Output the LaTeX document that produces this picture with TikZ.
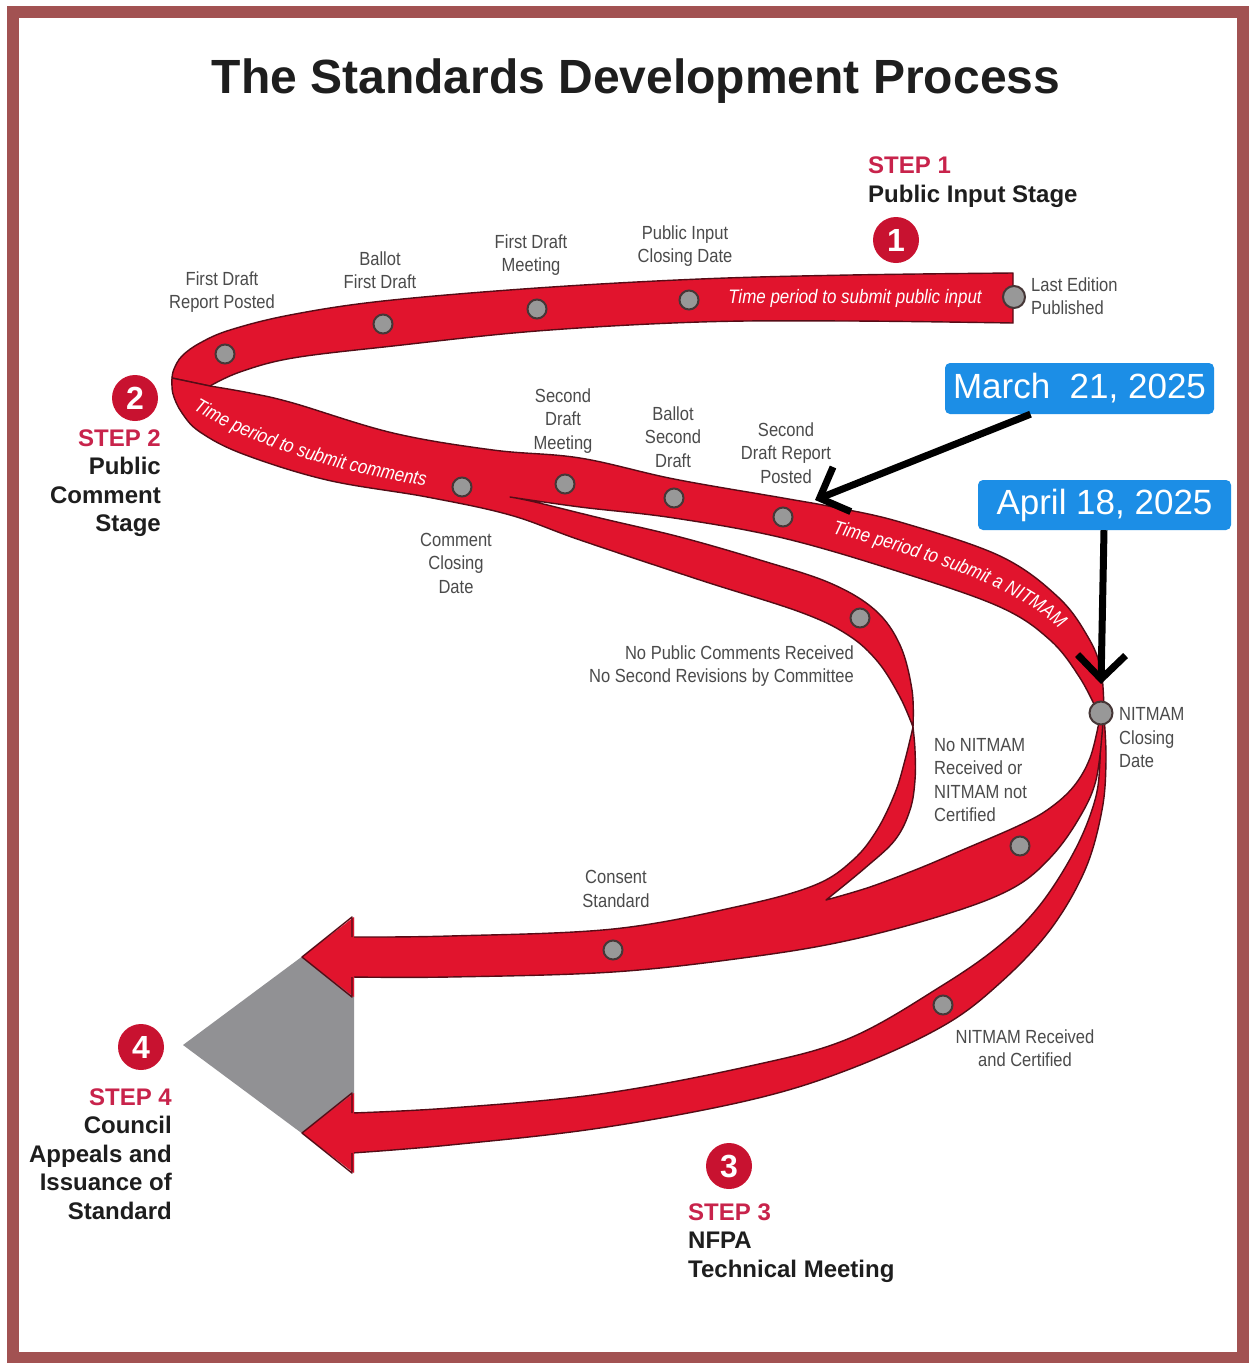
\documentclass[tikz,border=0pt]{standalone}
\usepackage{fontspec}
\setmainfont{Liberation Sans}
\newfontfamily\lblfont[FakeStretch=0.87]{Liberation Sans}
\usetikzlibrary{arrows.meta,decorations.text}
\definecolor{rib}{RGB}{225,20,45}
\definecolor{ribline}{RGB}{85,12,22}
\definecolor{stepred}{RGB}{200,35,75}
\definecolor{circred}{RGB}{200,18,48}
\definecolor{dotgray}{RGB}{152,152,152}
\definecolor{dotline}{RGB}{70,55,55}
\definecolor{trigray}{RGB}{145,145,148}
\definecolor{callblue}{RGB}{28,142,230}
\definecolor{framecol}{RGB}{162,82,82}
\definecolor{lbltxt}{RGB}{75,75,75}
\definecolor{darktxt}{RGB}{30,30,30}
\begin{document}
\begin{tikzpicture}[x=1pt,y=-1pt,
  ribbon/.style={fill=rib, draw=ribline, line width=1.4pt, line join=round},
  dotn/.style={circle, fill=dotgray, draw=dotline, line width=2pt, minimum size=19pt, inner sep=0pt},
  lbl/.style={font=\lblfont\fontsize{19}{23.5}\selectfont, text=lbltxt, inner sep=0pt, align=center},
  ribtxt/.style={font=\lblfont\itshape\fontsize{19.5}{20}\selectfont, text=white, inner sep=0pt},
  stepblk/.style={font=\bfseries\fontsize{24}{28.5}\selectfont, text=darktxt, inner sep=0pt},
  numc/.style={circle, fill=circred, text=white, font=\bfseries\fontsize{32}{32}\selectfont, minimum size=46pt, inner sep=0pt},
  callout/.style={fill=callblue, rounded corners=5pt, text=white, font=\fontsize{35}{35}\selectfont, inner sep=0pt},
  bigarrow/.style={line width=7pt, -{Straight Barb[length=24pt,width=48pt]}}
]
\useasboundingbox (0,0) rectangle (1248,1363);
\fill[white] (0,0) rectangle (1248,1363);
\draw[framecol, line width=12pt] (13,12) rectangle (1243,1358);

% title
\node[font=\bfseries\fontsize{48}{48}\selectfont, text=darktxt] (title) at (636,81) {The Standards Development Process};

% gray triangle
\fill[trigray] (183,1045) -- (354,918) -- (354,1172) -- cycle;

% top ribbon
\filldraw[ribbon] plot[smooth, tension=0.6] coordinates {(1013,273) (850,275) (700,279) (537,288) (383,301) (290,315) (230,330) (200,343) (182,356) (174,369) (172,378)}
 -- plot[smooth, tension=0.6] coordinates {(210,386) (240,372) (293,358) (393,346) (537,331) (700,322) (850,321) (1013,323)} -- cycle;

% comments ribbon with its two branches
\filldraw[ribbon] plot[smooth, tension=0.6] coordinates {(172,378) (173,394) (182,413) (200,432) (243,454) (327,480) (427,497) (510,515) (580,540) (700,580) (800,612) (848,635) (878,662) (900,697) (913,727)}
 -- plot[smooth, tension=0.6] coordinates {(913,727) (912,690) (900,645) (875,610) (830,583) (760,560) (680,537) (600,518) (535,502) (510,497)}
 -- plot[smooth, tension=0.6] coordinates {(510,497) (580,507) (674,518) (783,538) (900,572) (1000,607) (1050,640) (1080,678) (1099,715)}
 -- plot[smooth, tension=0.6] coordinates {(1104,712) (1101,670) (1088,637) (1058,597) (1000,556) (900,522) (833,507) (783,498) (674,479) (580,458) (493,450) (393,433) (293,403) (250,393) (210,386)}
 -- cycle;

% NITMAM received branch (lower arrow)
\filldraw[ribbon] plot[smooth, tension=0.6] coordinates {(1100,716) (1100,760) (1095,800) (1075,850) (1040,905) (1000,945) (943,985) (850,1038) (750,1066) (600,1094) (450,1108) (352,1113)}
 -- (352,1153)
 -- plot[smooth, tension=0.6] coordinates {(352,1153) (450,1145) (600,1128) (750,1100) (850,1069) (943,1026) (1000,983) (1050,930) (1085,870) (1102,810) (1106,760) (1104,716)}
 -- cycle;

% consent branch (upper arrow)
\filldraw[ribbon] plot[smooth, tension=0.6] coordinates {(913,727) (905,760) (895,793) (877,830) (853,860) (815,885) (740,906) (613,929) (450,936) (352,937)}
 -- (352,977)
 -- plot[smooth, tension=0.6] coordinates {(352,977) (450,977) (613,972) (750,957) (850,940) (950,913) (1013,888) (1050,858) (1078,820) (1096,780) (1103,722)}
 -- plot[smooth, tension=0.6] coordinates {(1099,722) (1090,758) (1074,786) (1050,808) (1020,825) (960,851) (920,868) (870,887) (826,900)}
 -- plot[smooth, tension=0.6] coordinates {(826,900) (865,868) (895,840) (910,810) (915,780) (915,750) (913,727)}
 -- cycle;

% arrow heads
\fill[rib] (354,917) -- (302,957) -- (354,997) -- cycle;
\draw[ribline, line width=1.4pt, line join=round] (352,937) -- (352,917) -- (302,957) -- (352,997) -- (352,977);
\fill[rib] (354,1093) -- (302,1133) -- (354,1173) -- cycle;
\draw[ribline, line width=1.4pt, line join=round] (352,1113) -- (352,1093) -- (302,1133) -- (352,1173) -- (352,1153);

% ribbon texts
\node[ribtxt] (tpinput) at (855,298) {Time period to submit public input};
\path[decorate, decoration={text along path, text align=center, text color=white,
  text={|\lblfont\itshape\fontsize{19.5}{20}\selectfont|Time period to submit comments}}]
  (180,402) .. controls (250,445) and (330,472) .. (440,488);
\path[decorate, decoration={text along path, text align=center, text color=white,
  text={|\lblfont\itshape\fontsize{19.5}{20}\selectfont|Time period to submit a NITMAM}}]
  (828,532) .. controls (940,562) and (1020,588) .. (1062,632);

% milestone dots
\node[dotn, minimum size=22pt] (dle) at (1014,297) {};
\node[dotn] (dpic) at (689,300) {};
\node[dotn] (dfdm) at (537,309) {};
\node[dotn] (dbfd) at (383,324) {};
\node[dotn] (dfdr) at (225,354) {};
\node[dotn] (dccd) at (462,487) {};
\node[dotn] (dsdm) at (565,484) {};
\node[dotn] (dbsd) at (674,498) {};
\node[dotn] (dsdr) at (783,517) {};
\node[dotn] (dnpc) at (860,618) {};
\node[dotn, minimum size=23pt] (dncd) at (1101,713) {};
\node[dotn] (dnn) at (1020,846) {};
\node[dotn] (dcs) at (613,950) {};
\node[dotn] (dnrc) at (943,1005) {};

% milestone labels
\node[lbl] (lfdr) at (222,292) {First Draft\\Report Posted};
\node[lbl] (lbfd) at (380,270) {Ballot\\First Draft};
\node[lbl] (lfdm) at (531,255) {First Draft\\Meeting};
\node[lbl] (lpic) at (685,246) {Public Input\\Closing Date};
\node[lbl, anchor=west, align=left] (lle) at (1031,296) {Last Edition\\Published};
\node[lbl] (lsdm) at (563,421) {Second\\Draft\\Meeting};
\node[lbl] (lbsd) at (673,437) {Ballot\\Second\\Draft};
\node[lbl] (lsdr) at (786,453) {Second\\Draft Report\\Posted};
\node[lbl] (lccd) at (456,563) {Comment\\Closing\\Date};
\node[lbl, anchor=east, align=right] (lnpc) at (854,666) {No Public Comments Received\\No Second Revisions by Committee};
\node[lbl, anchor=west, align=left] (lncd) at (1119,738) {NITMAM\\Closing\\Date};
\node[lbl, anchor=west, align=left] (lnn) at (934,780) {No NITMAM\\Received or\\NITMAM not\\Certified};
\node[lbl] (lcs) at (616,889) {Consent\\Standard};
\node[lbl] (lnrc) at (1025,1048) {NITMAM Received\\and Certified};

% steps
\node[numc] (c1) at (896,240) {1};
\node[numc] (c2) at (135,398) {2};
\node[numc] (c3) at (729,1166) {3};
\node[numc] (c4) at (141,1047) {4};
\node[stepblk, anchor=west, align=left] (step1) at (868,182) {\textcolor{stepred}{STEP 1}\\Public Input Stage};
\node[stepblk, anchor=east, align=right] (step2) at (161,483) {\textcolor{stepred}{STEP 2}\\Public\\Comment\\Stage};
\node[stepblk, anchor=west, align=left] (step3) at (688,1243) {\textcolor{stepred}{STEP 3}\\NFPA\\Technical Meeting};
\node[stepblk, anchor=east, align=right] (step4) at (172,1154) {\textcolor{stepred}{STEP 4}\\Council\\Appeals and\\Issuance of\\Standard};

% callouts
\node[callout, minimum width=269pt, minimum height=51pt] (march) at (1079.5,388.5) {March~~21, 2025};
\node[callout, minimum width=253pt, minimum height=50pt] (april) at (1104.5,505) {April 18, 2025};
\coordinate (mtip) at (815,500);
\coordinate (atip) at (1101,684);
\draw[bigarrow] ([xshift=-49pt]march.south) -- (mtip);
\draw[bigarrow] ([xshift=-0.5pt]april.south) -- (atip);
\end{tikzpicture}
\end{document}
